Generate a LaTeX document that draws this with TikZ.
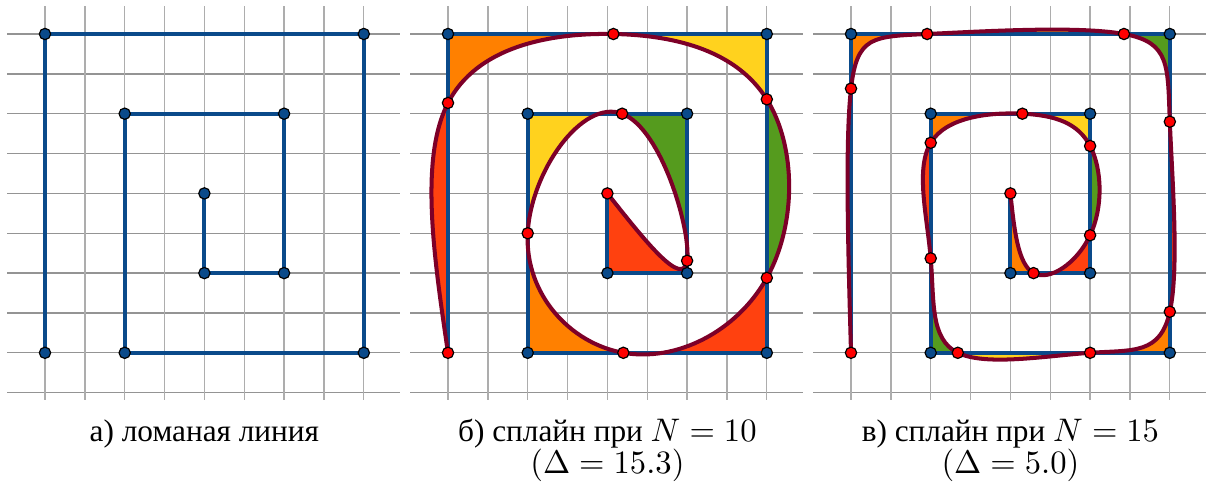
\documentclass[tikz,border=0pt]{standalone}
\usepackage[no-math]{fontspec}
\setmainfont{Liberation Serif}
\definecolor{polyblue}{RGB}{10,74,138}
\definecolor{splinered}{RGB}{125,0,40}
\definecolor{fillred}{RGB}{255,65,15}
\definecolor{fillorange}{RGB}{255,128,0}
\definecolor{fillyellow}{RGB}{255,210,30}
\definecolor{fillgreen}{RGB}{85,155,30}
\usepackage{tikz}

\begin{document}
\begin{tikzpicture}[x=0.47cm, y=0.47cm,
    gridrow/.style={black!42, line width=0.45pt},
    gridcol/.style={black!32, line width=0.45pt},
    spiral/.style={polyblue, line width=1.35pt, line join=round},
    spline/.style={splinered, line width=1.35pt, line join=round},
    vertexdot/.style={circle, draw=black, line width=0.4pt, fill=polyblue, inner sep=0pt, minimum size=3.8pt},
    knotdot/.style={circle, draw=black, line width=0.4pt, fill=red, inner sep=0pt, minimum size=3.8pt},
    captiontext/.style={font=\fontsize{10.5}{12}\selectfont, anchor=base}]
    \useasboundingbox (-1.129,-3.518) rectangle (29.184,8.853);

    % Grid of one panel: rows -1..8, columns 0..8
    \def\panelgrid{%
      \foreach \y in {-1,...,8} \draw[gridrow] (-0.95,\y) -- (8.91,\y);
      \foreach \x in {0,...,8} \draw[gridcol] (\x,-1.18) -- (\x,8.70);
    }
    % Broken line spiralling inwards from (0,0) to (4,4)
    \def\spiralline{%
      \draw[spiral] (0,0) -- (0,8) -- (8,8) -- (8,0) -- (2,0) -- (2,6) -- (6,6) -- (6,2) -- (4,2) -- (4,4);
    }

    % ---------------- a) broken line ----------------
    \begin{scope}
      \panelgrid
      \spiralline
      \foreach \p [count=\i] in {(0,0),(0,8),(8,8),(8,0),(2,0),(2,6),(6,6),(6,2),(4,2),(4,4)}
        \node[vertexdot] (va\i) at \p {};
      \node[captiontext] (capa) at (4,-2.23) {а) ломаная линия};
    \end{scope}

    % ---------------- b) spline, N = 10 ----------------
    \begin{scope}[shift={(10.113,0)}]
      \panelgrid
      % Knots
      \coordinate (b0) at (0,0);
      \coordinate (b1) at (0,6.27);
      \coordinate (b2) at (4.15,8);
      \coordinate (b3) at (8,6.36);
      \coordinate (b4) at (8,1.88);
      \coordinate (b5) at (4.4,0);
      \coordinate (b6) at (2,3);
      \coordinate (b7) at (4.37,6);
      \coordinate (b8) at (6,2.31);
      \coordinate (b9) at (4,4);

      % Areas between spline and broken line (red, orange, yellow, green in turn)
      \fill[fillred]    (b0) .. controls (-0.359,2.436) and (-0.719,4.871) .. (b1) -- cycle;
      \fill[fillorange] (b1) .. controls (0.719,7.669) and (2.515,8.031) .. (b2) -- (0,8) -- cycle;
      \fill[fillyellow] (b2) .. controls (5.785,7.969) and (7.258,7.544) .. (b3) -- (8,8) -- cycle;
      \fill[fillgreen]  (b3) .. controls (8.742,5.176) and (8.753,3.233) .. (b4) -- cycle;
      \fill[fillred]    (b4) .. controls (7.247,0.528) and (5.730,-0.234) .. (b5) -- (8,0) -- cycle;
      \fill[fillorange] (b5) .. controls (3.070,0.234) and (1.927,1.463) .. (b6) -- (2,0) -- cycle;
      \fill[fillyellow] (b6) .. controls (2.073,4.537) and (3.361,6.381) .. (b7) -- (2,6) -- cycle;
      \fill[fillgreen]  (b7) .. controls (5.379,5.619) and (6.108,3.014) .. (b8) -- (6,6) -- cycle;
      \fill[fillred]    (b8) .. controls (5.892,1.606) and (4.946,2.803) .. (b9) -- (4,2) -- (6,2) -- cycle;

      \spiralline

      % Spline through the knots
      \draw[spline] (b0) .. controls (-0.359,2.436) and (-0.719,4.871) .. (b1)
        .. controls (0.719,7.669) and (2.515,8.031) .. (b2)
        .. controls (5.785,7.969) and (7.258,7.544) .. (b3)
        .. controls (8.742,5.176) and (8.753,3.233) .. (b4)
        .. controls (7.247,0.528) and (5.730,-0.234) .. (b5)
        .. controls (3.070,0.234) and (1.927,1.463) .. (b6)
        .. controls (2.073,4.537) and (3.361,6.381) .. (b7)
        .. controls (5.379,5.619) and (6.108,3.014) .. (b8)
        .. controls (5.892,1.606) and (4.946,2.803) .. (b9);

      \foreach \p [count=\i] in {(0,8),(8,8),(8,0),(2,0),(2,6),(6,6),(6,2),(4,2)}
        \node[vertexdot] (vb\i) at \p {};
      \foreach \k in {0,...,9}
        \node[knotdot] (kb\k) at (b\k) {};

      \node[captiontext] (capb) at (4,-2.23) {б) сплайн при $N = 10$};
      \node[captiontext] (errb) at (4,-3.04) {$(\Delta = 15.3)$};
    \end{scope}

    % ---------------- c) spline, N = 15 ----------------
    \begin{scope}[shift={(20.226,0)}]
      \panelgrid
      % Knots
      \coordinate (c0) at (0,0);
      \coordinate (c1) at (0,6.63);
      \coordinate (c2) at (1.91,8);
      \coordinate (c3) at (6.85,8);
      \coordinate (c4) at (8,5.80);
      \coordinate (c5) at (8,1.03);
      \coordinate (c6) at (6,0);
      \coordinate (c7) at (2.68,0);
      \coordinate (c8) at (2,2.37);
      \coordinate (c9) at (2,5.27);
      \coordinate (c10) at (4.30,6);
      \coordinate (c11) at (6,5.19);
      \coordinate (c12) at (6,2.95);
      \coordinate (c13) at (4.58,2);
      \coordinate (c14) at (4,4);

      % Areas between spline and broken line
      \fill[fillred]    (c0) .. controls (-0.075,2.655) and (-0.150,5.310) .. (c1) -- cycle;
      \fill[fillorange] (c1) .. controls (0.150,7.950) and (0.526,7.935) .. (c2) -- (0,8) -- cycle;
      \fill[fillyellow] (c2) .. controls (3.294,8.065) and (5.688,8.211) .. (c3) -- cycle;
      \fill[fillgreen]  (c3) .. controls (8.012,7.789) and (7.943,7.221) .. (c4) -- (8,8) -- cycle;
      \fill[fillred]    (c4) .. controls (8.057,4.379) and (8.241,2.106) .. (c5) -- cycle;
      \fill[fillorange] (c5) .. controls (7.759,-0.046) and (7.094,0.074) .. (c6) -- (8,0) -- cycle;
      \fill[fillyellow] (c6) .. controls (4.906,-0.074) and (3.384,-0.344) .. (c7) -- cycle;
      \fill[fillgreen]  (c7) .. controls (1.977,0.344) and (2.092,1.301) .. (c8) -- (2,0) -- cycle;
      \fill[fillred]    (c8) .. controls (1.908,3.439) and (1.609,4.620) .. (c9) -- cycle;
      \fill[fillorange] (c9) .. controls (2.391,5.920) and (3.473,6.039) .. (c10) -- (2,6) -- cycle;
      \fill[fillyellow] (c10) .. controls (5.127,5.962) and (5.699,5.766) .. (c11) -- (6,6) -- cycle;
      \fill[fillgreen]  (c11) .. controls (6.301,4.614) and (6.332,3.658) .. (c12) -- cycle;
      \fill[fillred]    (c12) .. controls (5.668,2.242) and (4.974,1.784) .. (c13) -- (6,2) -- cycle;
      \fill[fillorange] (c13) .. controls (4.186,2.217) and (4.093,3.108) .. (c14) -- (4,2) -- cycle;

      \spiralline

      % Spline through the knots
      \draw[spline] (c0) .. controls (-0.075,2.655) and (-0.150,5.310) .. (c1)
        .. controls (0.150,7.950) and (0.526,7.935) .. (c2)
        .. controls (3.294,8.065) and (5.688,8.211) .. (c3)
        .. controls (8.012,7.789) and (7.943,7.221) .. (c4)
        .. controls (8.057,4.379) and (8.241,2.106) .. (c5)
        .. controls (7.759,-0.046) and (7.094,0.074) .. (c6)
        .. controls (4.906,-0.074) and (3.384,-0.344) .. (c7)
        .. controls (1.977,0.344) and (2.092,1.301) .. (c8)
        .. controls (1.908,3.439) and (1.609,4.620) .. (c9)
        .. controls (2.391,5.920) and (3.473,6.039) .. (c10)
        .. controls (5.127,5.962) and (5.699,5.766) .. (c11)
        .. controls (6.301,4.614) and (6.332,3.658) .. (c12)
        .. controls (5.668,2.242) and (4.974,1.784) .. (c13)
        .. controls (4.186,2.217) and (4.093,3.108) .. (c14);

      \foreach \p [count=\i] in {(0,8),(8,8),(8,0),(2,0),(2,6),(6,6),(6,2),(4,2)}
        \node[vertexdot] (vc\i) at \p {};
      \foreach \k in {0,...,14}
        \node[knotdot] (kc\k) at (c\k) {};

      \node[captiontext] (capc) at (4,-2.23) {в) сплайн при $N = 15$};
      \node[captiontext] (errc) at (4,-3.04) {$(\Delta = 5.0)$};
    \end{scope}
\end{tikzpicture}
\end{document}
